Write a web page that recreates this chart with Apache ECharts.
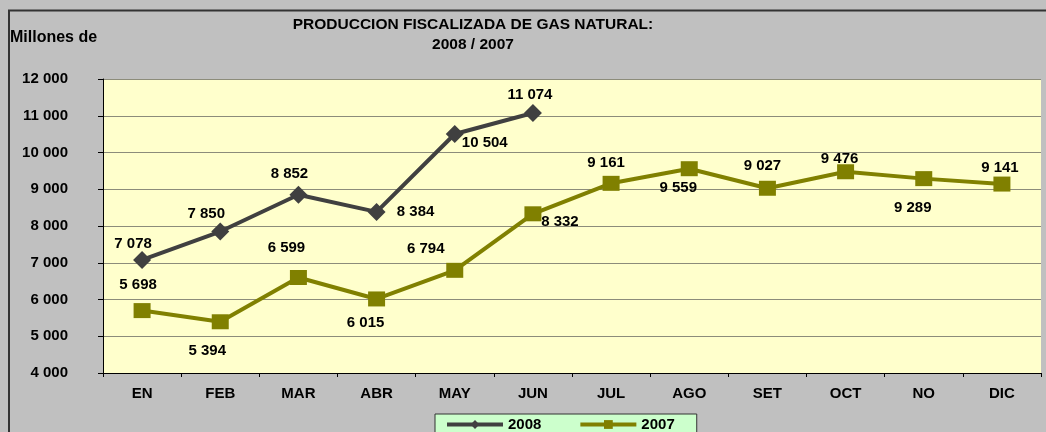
<!DOCTYPE html>
<html>
<head>
<meta charset="utf-8">
<script src="https://cdn.jsdelivr.net/npm/echarts@6/dist/echarts.min.js"></script>
<style>
    html, body { margin: 0; padding: 0; background: #c0c0c0; }
    #chart { width: 1046px; height: 432px; }
</style>
</head>
<body>
<div id="chart"></div>
<script>
// meses
var months = ['EN', 'FEB', 'MAR', 'ABR', 'MAY', 'JUN', 'JUL', 'AGO', 'SET', 'OCT', 'NO', 'DIC'];
// produccion, millones de pies cubicos
var prod2008 = [7078, 7850, 8852, 8384, 10504, 11074];
var prod2007 = [5698, 5394, 6599, 6015, 6794, 8332, 9161, 9559, 9027, 9476, 9289, 9141];
var yTicks = [4000, 5000, 6000, 7000, 8000, 9000, 10000, 11000, 12000];

// desplazamiento de las etiquetas respecto al punto
var off2008 = [[-9, -16], [-14, -18], [-9, -21], [39, 0], [30, 9], [-3, -18]];
var off2007 = [[-4, -26], [-13, 29], [-12, -30], [-11, 24], [-29, -21], [27, 8],
               [-5, -20], [-11, 19], [-5, -22], [-6, -13], [-11, 29], [-2, -16]];

function fmt(v) {
    return String(v).replace(/\B(?=(\d{3})+(?!\d))/g, ' ');
}

function withLabels(values, offsets) {
    return values.map(function (v, i) {
        return { value: v, label: { offset: offsets[i] } };
    });
}

var font = 'Liberation Sans, Arial, sans-serif';
var chart = echarts.init(document.getElementById('chart'));

chart.setOption({
    backgroundColor: '#c0c0c0',
    animation: false,
    title: {
        text: 'PRODUCCION FISCALIZADA DE GAS NATURAL:\n2008 / 2007',
        left: 468,
        top: 10,
        textAlign: 'center',
        textStyle: { fontFamily: font, fontSize: 15.5, fontWeight: 'bold', color: '#000', lineHeight: 20 }
    },
    graphic: [
        {
            type: 'rect', shape: { x: 9, y: 10.5, width: 1100, height: 500 },
            style: { fill: 'none', stroke: '#333', lineWidth: 2 }, silent: true
        },
        {
            type: 'text', left: 10, top: 30,
            style: { text: 'Millones de', font: 'bold 16px ' + font, fill: '#000' }
        }
    ],
    legend: {
        left: 435,
        top: 414,
        padding: [3, 22, 6, 10],
        itemWidth: 56,
        itemHeight: 11,
        itemGap: 37,
        backgroundColor: '#ccffcc',
        borderColor: '#333',
        borderWidth: 1,
        borderRadius: 0,
        lineStyle: { width: 4 },
        textStyle: { fontFamily: font, fontSize: 15, fontWeight: 'bold', color: '#000' },
        data: ['2008', '2007']
    },
    grid: {
        left: 103, right: 5, top: 79, bottom: 59,
        show: true, backgroundColor: '#ffffcc', borderWidth: 0
    },
    xAxis: {
        type: 'category',
        data: months,
        boundaryGap: true,
        axisLine: { lineStyle: { color: '#000', width: 1 } },
        axisTick: { show: true, length: 4, alignWithLabel: false, lineStyle: { color: '#000' } },
        axisLabel: { fontFamily: font, fontSize: 15, fontWeight: 'bold', color: '#000', margin: 13 }
    },
    yAxis: {
        type: 'value',
        min: yTicks[0],
        max: yTicks[yTicks.length - 1],
        interval: 1000,
        axisLine: { show: true, lineStyle: { color: '#000', width: 1 } },
        axisTick: { show: true, length: 5, lineStyle: { color: '#000' } },
        splitLine: { lineStyle: { color: '#8c8c7a', width: 1 } },
        axisLabel: { fontFamily: font, fontSize: 15, fontWeight: 'bold', color: '#000', margin: 35, formatter: fmt }
    },
    series: [
        {
            name: '2008',
            type: 'line',
            data: withLabels(prod2008, off2008),
            symbol: 'diamond',
            symbolSize: 18,
            itemStyle: { color: '#404040' },
            lineStyle: { color: '#404040', width: 4 },
            z: 3,
            label: {
                show: true, position: 'inside', align: 'center', verticalAlign: 'middle',
                fontFamily: font, fontSize: 15, fontWeight: 'bold', color: '#000',
                formatter: function (p) { return fmt(p.value); }
            }
        },
        {
            name: '2007',
            type: 'line',
            data: withLabels(prod2007, off2007),
            symbol: 'rect',
            symbolSize: [17, 15],
            itemStyle: { color: '#808000' },
            lineStyle: { color: '#808000', width: 4 },
            z: 2,
            label: {
                show: true, position: 'inside', align: 'center', verticalAlign: 'middle',
                fontFamily: font, fontSize: 15, fontWeight: 'bold', color: '#000',
                formatter: function (p) { return fmt(p.value); }
            }
        }
    ]
});
</script>
</body>
</html>
